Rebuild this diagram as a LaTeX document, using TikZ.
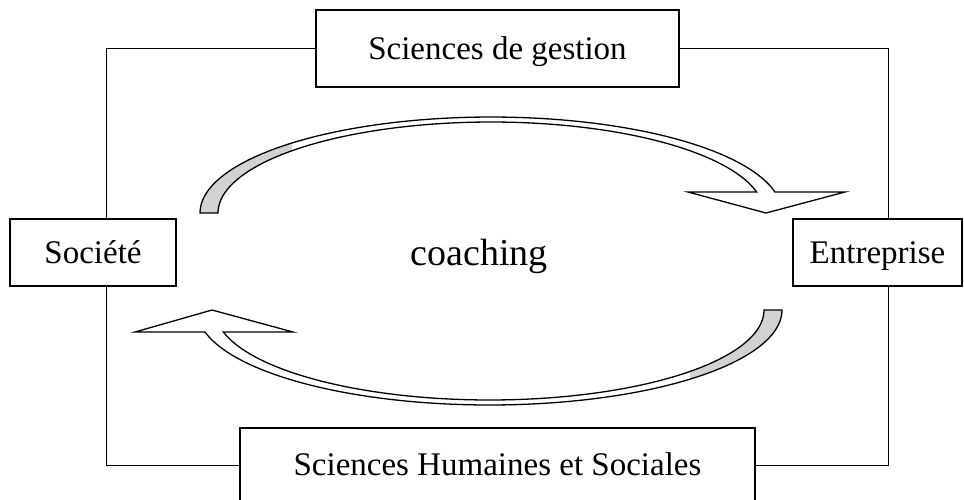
\documentclass[tikz,border=0pt]{standalone}
\usepackage{fontspec}
\setmainfont{Liberation Serif}
\newcommand\topbandpath{plot[domain=180:12.64,samples=80] ({491+291*cos(\x)},{213-96*sin(\x)}) -- (845,192) -- (766,213) -- (688,192) -- plot[domain=13.34:180,samples=80] ({491+273*cos(\x)},{213-91*sin(\x)}) -- cycle}
\newcommand\botbandpath{plot[domain=0:166.61,samples=80] ({489.5+292.5*cos(\x)},{310+95*sin(\x)}) -- (135,332) -- (212,310) -- (293,332) -- plot[domain=165.85:0,samples=80] ({489.5+274.5*cos(\x)},{310+90*sin(\x)}) -- cycle}
\begin{document}
\begin{tikzpicture}[x=1pt,y=-1pt,
  box/.style={draw, line width=1.2pt, rectangle, inner sep=0pt, fill=white,
    font=\fontsize{33}{38}\selectfont, text height=21.8pt, text depth=0pt},
  link/.style={draw, line width=1pt},
  band/.style={line width=1.3pt, line join=miter}]
\useasboundingbox (0,0) rectangle (964,499);
\fill[white] (0,0) rectangle (964,499);
\coordinate (lx) at (106,0);
\coordinate (rx) at (888,0);
\node[box, minimum width=363pt, minimum height=77pt] (gestion) at (497.5,48.5) {Sciences de gestion};
\node[box, minimum width=166pt, minimum height=67pt] (societe) at (93,252.5) {Société};
\node[box, minimum width=169pt, minimum height=67pt] (entreprise) at (877.5,252.5) {Entreprise};
\node[box, minimum width=515pt, minimum height=74pt] (shs) at (497.5,465) {Sciences Humaines et Sociales};
\node[font=\fontsize{38}{44}\selectfont, anchor=base] (coaching) at (479,265) {coaching};
\draw[link] (societe.north -| lx) |- (gestion.west);
\draw[link] (gestion.east) -| (entreprise.north -| rx);
\draw[link] (societe.south -| lx) |- (shs.west);
\draw[link] (shs.east) -| (entreprise.south -| rx);
% top curved arrow
\fill[white] \topbandpath;
\begin{scope}
  \clip (0,0) rectangle (292,499);
  \fill[gray!35] \topbandpath;
\end{scope}
\draw[band] \topbandpath;
% bottom curved arrow
\fill[white] \botbandpath;
\begin{scope}
  \clip (690,0) rectangle (964,499);
  \fill[gray!35] \botbandpath;
\end{scope}
\draw[band] \botbandpath;
\end{tikzpicture}
\end{document}
